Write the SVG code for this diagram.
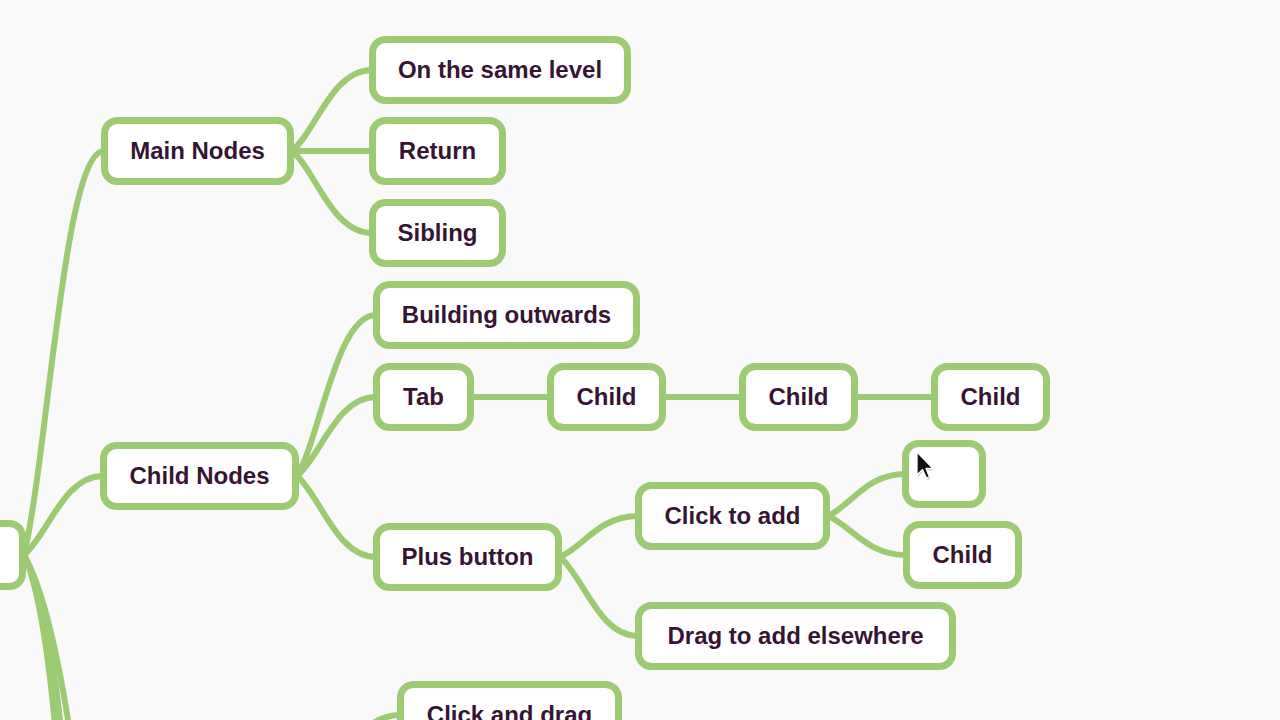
<svg xmlns="http://www.w3.org/2000/svg" width="1280" height="720" viewBox="0 0 1280 720">
<style>
.bg{fill:#faf9f9}
.node rect{fill:#ffffff;stroke:#9dcb74;stroke-width:7}
.node text{font-family:"Liberation Sans",Arial,sans-serif;font-weight:bold;font-size:24px;fill:#361534;text-anchor:middle}
#connectors path,#connectors line{fill:none;stroke:#9dcb74;stroke-width:6;stroke-linecap:round}
</style>
<rect class="bg" x="0" y="0" width="1280" height="720"/>
<g id="connectors">
<path d="M24,555 C48,454 64,151 104,151"/>
<path d="M24,555 C47.7,535 63.5,476 103,476"/>
<path d="M24,555 C40,590 50,660 58,760"/>
<path d="M24,555 C42,590 55,660 64,760"/>
<path d="M24,555 C44,590 60,660 74,760"/>
<path d="M292,151 C316.5,130.75 331.5,70 372,70"/>
<line x1="292" y1="151" x2="372" y2="151"/>
<path d="M292,151 C316.5,171.5 331.5,233 372,233"/>
<path d="M297,476 C320.7,435.75 336.5,315 376,315"/>
<path d="M297,476 C320.7,456.25 336.5,397 376,397"/>
<path d="M297,476 C320.7,496.25 336.5,557 376,557"/>
<line x1="472" y1="397" x2="550" y2="397"/>
<line x1="664" y1="397" x2="742" y2="397"/>
<line x1="856" y1="397" x2="934" y2="397"/>
<path d="M560,557 C583.4,546.75 599,516 638,516"/>
<path d="M560,557 C583.4,576.75 599,636 638,636"/>
<path d="M828,516 C851.1,505.5 866.5,474 905,474"/>
<path d="M828,516 C851.1,525.75 867,555 906,555"/>
<path d="M320,790 C350,740 370,715 400,715"/>
</g>
<g id="root" class="node"><rect x="-60" y="523.5" width="82.5" height="63" rx="13"/></g>
<g id="main-nodes" class="node"><rect x="104.5" y="120.5" width="186" height="61" rx="13"/><text x="197.5" y="159">Main Nodes</text></g>
<g id="same-level" class="node"><rect x="372.5" y="39.5" width="255" height="61" rx="13"/><text x="500" y="78">On the same level</text></g>
<g id="return" class="node"><rect x="372.5" y="120.5" width="130" height="61" rx="13"/><text x="437.5" y="159">Return</text></g>
<g id="sibling" class="node"><rect x="372.5" y="202.5" width="130" height="61" rx="13"/><text x="437.5" y="241">Sibling</text></g>
<g id="child-nodes" class="node"><rect x="103.5" y="445.5" width="192" height="61" rx="13"/><text x="199.5" y="484">Child Nodes</text></g>
<g id="building" class="node"><rect x="376.5" y="284.5" width="260" height="61" rx="13"/><text x="506.5" y="323">Building outwards</text></g>
<g id="tab" class="node"><rect x="376.5" y="366.5" width="94" height="61" rx="13"/><text x="423.5" y="405">Tab</text></g>
<g id="child-a" class="node"><rect x="550.5" y="366.5" width="112" height="61" rx="13"/><text x="606.5" y="405">Child</text></g>
<g id="child-b" class="node"><rect x="742.5" y="366.5" width="112" height="61" rx="13"/><text x="798.5" y="405">Child</text></g>
<g id="child-c" class="node"><rect x="934.5" y="366.5" width="112" height="61" rx="13"/><text x="990.5" y="405">Child</text></g>
<g id="plus" class="node"><rect x="376.5" y="526.5" width="182" height="61" rx="13"/><text x="467.5" y="565">Plus button</text></g>
<g id="click-add" class="node"><rect x="638.5" y="485.5" width="188" height="61" rx="13"/><text x="732.5" y="524">Click to add</text></g>
<g id="empty" class="node"><rect x="905.5" y="443.5" width="77" height="61" rx="13"/></g>
<g id="child-d" class="node"><rect x="906.5" y="524.5" width="112" height="61" rx="13"/><text x="962.5" y="563">Child</text></g>
<g id="drag" class="node"><rect x="638.5" y="605.5" width="314" height="61" rx="13"/><text x="795.5" y="644">Drag to add elsewhere</text></g>
<g id="click-drag" class="node"><rect x="400.5" y="684.5" width="218" height="61" rx="13"/><text x="509.5" y="723">Click and drag</text></g>
<path d="M918,454 L918,477 L923.5,471.5 L927.5,480 L930.5,479 L927,470.5 L934,470.5 Z" fill="#000000" opacity="0.18"/>
<path d="M917,452 L917,475 L922.5,469.5 L926.5,478 L929.5,477 L926,468.5 L933,468.5 Z" fill="#111111" stroke="#ffffff" stroke-width="1.3" stroke-linejoin="round"/>
</svg>
